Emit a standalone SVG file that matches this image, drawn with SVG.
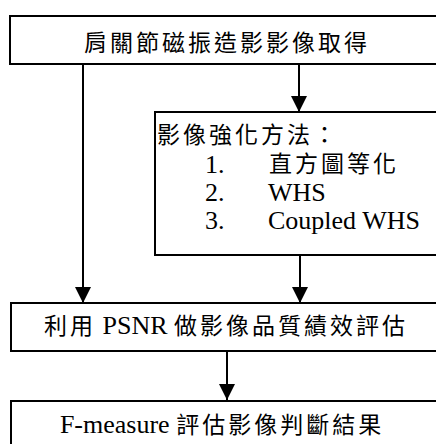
<svg xmlns="http://www.w3.org/2000/svg" width="436" height="444" viewBox="0 0 436 444">
<defs>
<style>
.box{fill:#fff;stroke:#000;stroke-width:2}
.t{font-family:"Liberation Serif","Noto Sans CJK TC",serif;font-size:26px;fill:#000}
.k{font-family:"Noto Sans CJK TC","Liberation Serif",sans-serif;font-size:23px;letter-spacing:3px}
.c{text-anchor:middle}
.ln{stroke:#000;stroke-width:2;fill:none}
</style>
<marker id="ah" markerWidth="16" markerHeight="16" viewBox="0 0 16 16" refX="16" refY="8" orient="auto" markerUnits="userSpaceOnUse">
<path d="M0,0 L16,8 L0,16 Z" fill="#000"/>
</marker>
</defs>
<rect width="436" height="444" fill="#fff"/>
<g id="connectors">
<line class="ln" x1="299" y1="64" x2="299" y2="112" marker-end="url(#ah)"/>
<line class="ln" x1="83" y1="64" x2="83" y2="303" marker-end="url(#ah)"/>
<line class="ln" x1="300" y1="255" x2="300" y2="303" marker-end="url(#ah)"/>
<line class="ln" x1="227" y1="352" x2="227" y2="400" marker-end="url(#ah)"/>
</g>
<g id="n1">
<rect class="box" x="10" y="16" width="440" height="48"/>
<text class="t k c" x="227" y="51">肩關節磁振造影影像取得</text>
</g>
<g id="n2">
<rect class="box" x="155" y="112" width="300" height="143"/>
<text class="t k" x="157" y="143">影像強化方法：</text>
<text class="t" x="205" y="173">1.</text>
<text class="t k" x="269" y="172">直方圖等化</text>
<text class="t" x="205" y="201">2.</text>
<text class="t" x="268" y="201">WHS</text>
<text class="t" x="205" y="229">3.</text>
<text class="t" x="268" y="229">Coupled WHS</text>
</g>
<g id="n3">
<rect class="box" x="11" y="303" width="440" height="48"/>
<text class="t c" x="226" y="334"><tspan class="k">利用</tspan> PSNR <tspan class="k">做影像品質績效評估</tspan></text>
</g>
<g id="n4">
<rect class="box" x="11" y="401" width="440" height="60"/>
<text class="t c" x="222" y="433">F-measure <tspan class="k">評估影像判斷結果</tspan></text>
</g>
</svg>
